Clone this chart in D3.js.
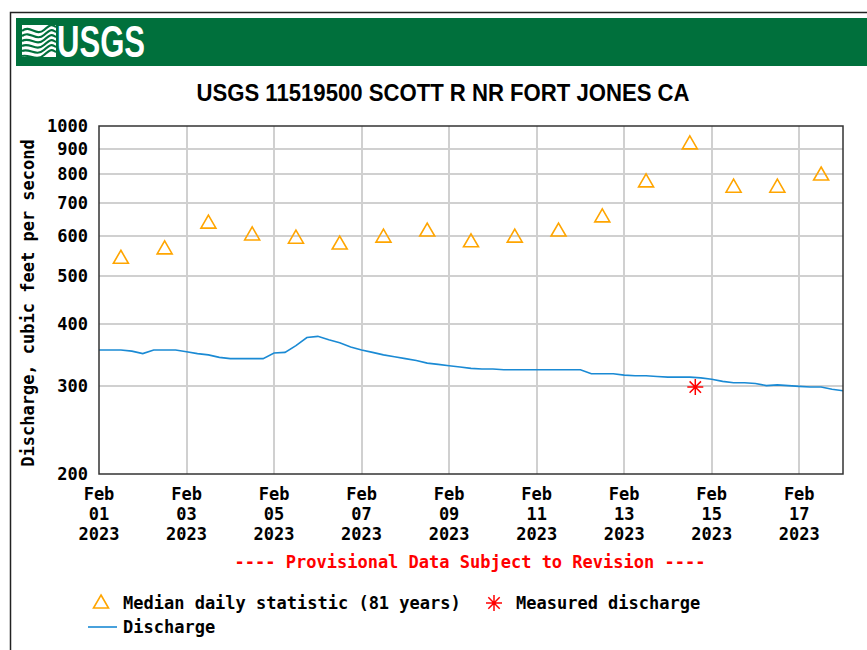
<!DOCTYPE html>
<html lang="en">
	<head>
		<meta charset="utf-8">
		<title>USGS 11519500 SCOTT R NR FORT JONES CA</title>
		<script type="text/javascript" src="https://cdn.jsdelivr.net/npm/d3@7"></script>
		<style type="text/css">
			body {
				margin: 0;
				background: white;
			}
			.mono {
				font-family: "DejaVu Sans Mono", monospace;
				font-weight: bold;
			}
			.grid line {
				stroke: #d0d0d0;
				stroke-width: 1.5;
				shape-rendering: crispEdges;
			}
		</style>
	</head>
	<body>
		<script type="text/javascript">

			//SVG width and height
			var w = 867;
			var h = 650;

			// Plot area
			var plotLeft = 99, plotRight = 843, plotTop = 126, plotBottom = 474;

			// Median daily statistic (81 years), one per day, plotted at noon
			var medianDays = ["2023-02-01","2023-02-02","2023-02-03","2023-02-04","2023-02-05","2023-02-06",
							"2023-02-07","2023-02-08","2023-02-09","2023-02-10","2023-02-11","2023-02-12",
							"2023-02-13","2023-02-14","2023-02-15","2023-02-16","2023-02-17"];
			var medianValues = [545, 569, 641, 607, 598, 582, 601, 618, 588, 601, 618, 660, 776, 925, 757, 757, 801];

			// Discharge, read every 6 hours from Feb 01 00:00
			var dischargeStart = "2023-02-01T00:00";
			var dischargeStepHours = 6;
			var dischargeValues = [
				355, 355, 355, 353, 349, 355, 355, 355,		// Feb 01-02
				352, 349, 347, 343, 341, 341, 341, 341,		// Feb 03-04
				350, 351, 362, 376, 378, 372, 367, 360,		// Feb 05-06
				355, 351, 347, 344, 341, 338, 334, 332,		// Feb 07-08
				330, 328, 326, 325, 325, 324, 324, 324,		// Feb 09-10
				324, 324, 324, 324, 324, 318, 318, 318,		// Feb 11-12
				316, 315, 315, 314, 313, 313, 313, 312,		// Feb 13-14
				310, 307, 305, 305, 304, 301, 302, 301,		// Feb 15-16
				300, 299, 299, 296, 294						// Feb 17-18
			];

			// Measured discharge
			var measuredTimes = ["2023-02-14T15:00"];
			var measuredValues = [299];

			// Axis ticks
			var yTicks = [200, 300, 400, 500, 600, 700, 800, 900, 1000];
			var xTickDays = ["2023-02-01","2023-02-03","2023-02-05","2023-02-07","2023-02-09",
							"2023-02-11","2023-02-13","2023-02-15","2023-02-17"];
			var xDomain = ["2023-02-01T00:00", "2023-02-18T00:00"];

			var parseDay = d3.utcParse("%Y-%m-%d");
			var parseTime = d3.utcParse("%Y-%m-%dT%H:%M");

			var medianData = medianDays.map(function(d, i) {
				return { t: d3.utcHour.offset(parseDay(d), 12), v: medianValues[i] };
			});
			var t0 = parseTime(dischargeStart);
			var dischargeData = dischargeValues.map(function(v, i) {
				return { t: d3.utcHour.offset(t0, i * dischargeStepHours), v: v };
			});
			var measuredData = measuredTimes.map(function(d, i) {
				return { t: parseTime(d), v: measuredValues[i] };
			});

			var xScale = d3.scaleUtc()
							.domain(xDomain.map(parseTime))
							.range([plotLeft, plotRight]);

			var yScale = d3.scaleLog()
							.domain([200, 1000])
							.range([plotBottom, plotTop]);

			var svg = d3.select("body")
						.append("svg")
						.attr("width", w)
						.attr("height", h);

			// Outer frame
			svg.append("path")
				.attr("d", "M10.5," + h + "V12.5H" + w)
				.attr("fill", "none")
				.attr("stroke", "#222")
				.attr("stroke-width", 1.5);

			// Green banner with logo
			svg.append("rect")
				.attr("x", 16).attr("y", 18)
				.attr("width", w - 16).attr("height", 48)
				.attr("fill", "#00703c");

			var logo = svg.append("g").attr("transform", "translate(22,25)");
			// wave icon
			logo.append("path")
				.attr("d", "M0,0H34V32H0Z")
				.attr("fill", "white");
			var waves = [4, 9, 14, 19, 24, 29];
			logo.selectAll("path.wave")
				.data(waves)
				.enter()
				.append("path")
				.attr("class", "wave")
				.attr("d", function(d, i) {
					return "M0," + (d + 2) + " C8," + (d - 5 + i) + " 14," + (d + 8) + " 22," + (d + 1) + " S30," + (d - 4) + " 34," + (d - 2);
				})
				.attr("fill", "none")
				.attr("stroke", "#00703c")
				.attr("stroke-width", 2.2);
			logo.append("text")
				.attr("x", 35)
				.attr("y", 32)
				.attr("fill", "white")
				.attr("font-family", "'Liberation Sans Narrow', 'Liberation Sans', sans-serif")
				.attr("font-weight", "bold")
				.attr("font-size", 45)
				.attr("textLength", 88)
				.attr("lengthAdjust", "spacingAndGlyphs")
				.text("USGS");

			// Title
			svg.append("text")
				.attr("x", 443)
				.attr("y", 101)
				.attr("text-anchor", "middle")
				.attr("font-family", "'Liberation Sans', Arial, sans-serif")
				.attr("font-weight", "bold")
				.attr("font-size", 24)
				.attr("textLength", 493)
				.attr("lengthAdjust", "spacingAndGlyphs")
				.text("USGS 11519500 SCOTT R NR FORT JONES CA");

			// Gridlines
			var grid = svg.append("g").attr("class", "grid");
			grid.selectAll("line.h")
				.data(yTicks.slice(1, -1))
				.enter()
				.append("line")
				.attr("class", "h")
				.attr("x1", plotLeft).attr("x2", plotRight)
				.attr("y1", function(d) { return Math.round(yScale(d)); })
				.attr("y2", function(d) { return Math.round(yScale(d)); });
			grid.selectAll("line.v")
				.data(xTickDays.slice(1))
				.enter()
				.append("line")
				.attr("class", "v")
				.attr("y1", plotTop).attr("y2", plotBottom)
				.attr("x1", function(d) { return Math.round(xScale(parseDay(d))); })
				.attr("x2", function(d) { return Math.round(xScale(parseDay(d))); });

			// Discharge line
			var line = d3.line()
						.x(function(d) { return xScale(d.t); })
						.y(function(d) { return yScale(d.v); });
			svg.append("path")
				.datum(dischargeData)
				.attr("d", line)
				.attr("fill", "none")
				.attr("stroke", "#1a8ad4")
				.attr("stroke-width", 1.6);

			// Triangle marker path
			function triangle(cx, cy) {
				return "M" + cx + "," + (cy - 7) + "L" + (cx + 7.5) + "," + (cy + 6) + "L" + (cx - 7.5) + "," + (cy + 6) + "Z";
			}
			// Asterisk marker path
			function asterisk(cx, cy) {
				var r = 8, d = 5.7;
				return "M" + (cx - r) + "," + cy + "H" + (cx + r) +
						"M" + cx + "," + (cy - r) + "V" + (cy + r) +
						"M" + (cx - d) + "," + (cy - d) + "L" + (cx + d) + "," + (cy + d) +
						"M" + (cx - d) + "," + (cy + d) + "L" + (cx + d) + "," + (cy - d);
			}

			svg.append("g")
				.selectAll("path")
				.data(medianData)
				.enter()
				.append("path")
				.attr("d", function(d) { return triangle(xScale(d.t), yScale(d.v)); })
				.attr("fill", "none")
				.attr("stroke", "#ffa500")
				.attr("stroke-width", 1.6);

			svg.append("g")
				.selectAll("path")
				.data(measuredData)
				.enter()
				.append("path")
				.attr("d", function(d) { return asterisk(xScale(d.t), yScale(d.v)); })
				.attr("fill", "none")
				.attr("stroke", "#ff0000")
				.attr("stroke-width", 1.5);

			// Plot frame
			svg.append("rect")
				.attr("x", plotLeft).attr("y", plotTop)
				.attr("width", plotRight - plotLeft).attr("height", plotBottom - plotTop)
				.attr("fill", "none")
				.attr("stroke", "#333")
				.attr("stroke-width", 1.5);

			// Y axis labels
			svg.append("g")
				.attr("class", "mono")
				.selectAll("text")
				.data(yTicks)
				.enter()
				.append("text")
				.attr("x", 88)
				.attr("y", function(d) { return yScale(d) + 6; })
				.attr("text-anchor", "end")
				.attr("font-size", 17)
				.text(function(d) { return d; });

			svg.append("text")
				.attr("class", "mono")
				.attr("transform", "translate(34,303) rotate(-90)")
				.attr("text-anchor", "middle")
				.attr("font-size", 17)
				.text("Discharge, cubic feet per second");

			// X axis labels
			var fmtLines = [d3.utcFormat("%b"), d3.utcFormat("%d"), d3.utcFormat("%Y")];
			var xLab = svg.append("g")
						.attr("class", "mono")
						.selectAll("g")
						.data(xTickDays)
						.enter()
						.append("g")
						.attr("transform", function(d) { return "translate(" + xScale(parseDay(d)) + ",0)"; });
			fmtLines.forEach(function(f, i) {
				xLab.append("text")
					.attr("y", 500 + i * 20)
					.attr("text-anchor", "middle")
					.attr("font-size", 17)
					.text(function(d) { return f(parseDay(d)); });
			});

			// Provisional note
			svg.append("text")
				.attr("class", "mono")
				.attr("x", 470)
				.attr("y", 568)
				.attr("text-anchor", "middle")
				.attr("font-size", 17)
				.attr("fill", "#ff0000")
				.text("---- Provisional Data Subject to Revision ----");

			// Legend
			var legend = svg.append("g").attr("class", "mono").attr("font-size", 17);
			legend.append("path")
				.attr("d", triangle(101, 602))
				.attr("fill", "none")
				.attr("stroke", "#ffa500")
				.attr("stroke-width", 1.6);
			legend.append("text").attr("x", 123).attr("y", 609).text("Median daily statistic (81 years)");
			legend.append("path")
				.attr("d", asterisk(494, 603))
				.attr("fill", "none")
				.attr("stroke", "#ff0000")
				.attr("stroke-width", 1.5);
			legend.append("text").attr("x", 516).attr("y", 609).text("Measured discharge");
			legend.append("line")
				.attr("x1", 88).attr("x2", 117)
				.attr("y1", 627).attr("y2", 627)
				.attr("stroke", "#1a8ad4")
				.attr("stroke-width", 1.6);
			legend.append("text").attr("x", 123).attr("y", 633).text("Discharge");

		</script>
	</body>
</html>
